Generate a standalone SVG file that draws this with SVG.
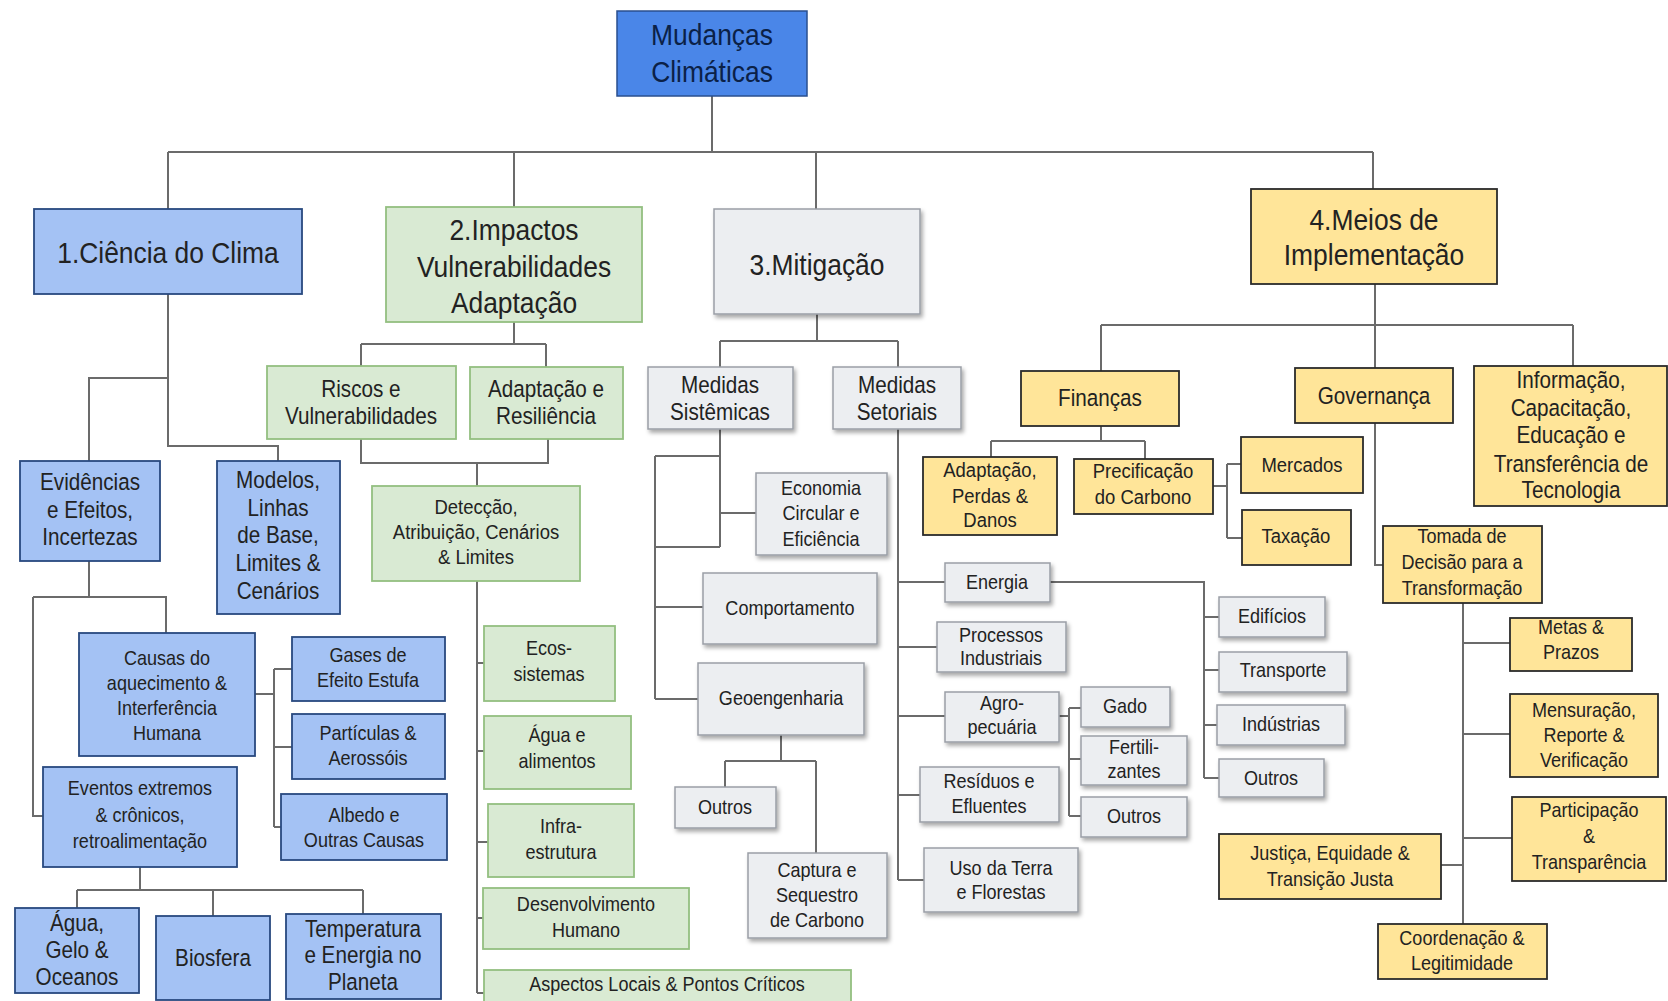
<svg xmlns="http://www.w3.org/2000/svg" width="1668" height="1001" viewBox="0 0 1668 1001">
<defs>
<filter id="sh" x="-10%" y="-10%" width="130%" height="140%">
<feDropShadow dx="2" dy="3" stdDeviation="2" flood-color="#000" flood-opacity="0.35"/>
</filter>
</defs>
<style>
text{font-family:"Liberation Sans",Arial,sans-serif;fill:#222;text-anchor:middle;transform-box:fill-box;transform-origin:center;transform:scaleX(0.88)}
.top rect{fill:#4a86e8;stroke:#2a4f8f;stroke-width:1.5}
.top text{fill:#0b2147}
.blue rect{fill:#a4c2f4;stroke:#28497f;stroke-width:1.8}
.green rect{fill:#d9ead3;stroke:#93bf80;stroke-width:1.8}
.gray rect{fill:#eceef1;stroke:#9a9ea6;stroke-width:1.5;filter:url(#sh)}
.yellow rect{fill:#ffe599;stroke:#2b2b2b;stroke-width:1.8}
.f27{font-size:30px}
.f21{font-size:23.5px}
.f19{font-size:21px}
.f18{font-size:20.5px}
#connectors path{fill:none;stroke:#6b6b6b;stroke-width:2}
</style>
<rect width="1668" height="1001" fill="#fff"/>

<g id="connectors">
<path d="M712 96V152M168 152H1373M168 152V209M514 152V207M816 152V209M1373 152V189"/>
<path d="M168 294V446H278V461M168 378H89V461M89 561V597M33 597H166V633M33 597V816H43M255 694H274M274 669V827M274 669H292M274 747H292M274 827H281M140 867V890M77 890H363M77 890V908M213 890V916M363 890V914"/>
<path d="M514 322V344M361 344H546M361 344V366M546 344V367M361 439V463H548V439M477 463V486M477 581V993M477 663H484M477 751H484M477 842H488M477 918H483M477 993H484"/>
<path d="M817 314V341M720 341H898M720 341V367M898 341V367M720 429V547M655 456H720M655 547H720M720 513H756M655 456V699M655 607H703M655 699H698M781 735V761M725 761H816M725 761V787M816 761V853"/>
<path d="M898 429V880M898 582H945M898 647H937M898 716H945M898 795H920M898 880H924M1050 582H1204V778M1204 617H1219M1204 670H1219M1204 725H1217M1204 778H1219M1059 716H1069M1069 708V816M1069 708H1081M1069 759H1081M1069 816H1081"/>
<path d="M1375 284V325M1101 325H1573M1101 325V371M1375 325V368M1573 325V366M1101 426V441M991 441H1145M991 441V457M1145 441V459M1213 486H1227M1227 464V538M1227 464H1241M1227 538H1242M1375 423V565H1383M1463 603V924M1463 643H1510M1463 734H1510M1463 838H1512M1441 865H1463"/>
</g>

<g id="mudancas" class="top"><rect x="617" y="11" width="190" height="85"/><text class="f27"><tspan x="712" y="45">Mudanças</tspan><tspan x="712" y="82">Climáticas</tspan></text></g>

<g id="ciencia" class="blue"><rect x="34" y="209" width="268" height="85"/><text class="f27" x="168" y="263">1.Ciência do Clima</text></g>
<g id="impactos" class="green"><rect x="386" y="207" width="256" height="115"/><text class="f27"><tspan x="514" y="240">2.Impactos</tspan><tspan x="514" y="277">Vulnerabilidades</tspan><tspan x="514" y="313">Adaptação</tspan></text></g>
<g id="mitigacao" class="gray"><rect x="714" y="209" width="206" height="105"/><text class="f27" x="817" y="275">3.Mitigação</text></g>
<g id="meios" class="yellow"><rect x="1251" y="189" width="246" height="95"/><text class="f27"><tspan x="1374" y="230">4.Meios de</tspan><tspan x="1374" y="265">Implementação</tspan></text></g>

<g id="evidencias" class="blue"><rect x="20" y="461" width="140" height="100"/><text class="f21"><tspan x="90" y="490">Evidências</tspan><tspan x="90" y="518">e Efeitos,</tspan><tspan x="90" y="545">Incertezas</tspan></text></g>
<g id="modelos" class="blue"><rect x="217" y="461" width="123" height="153"/><text class="f21"><tspan x="278" y="488">Modelos,</tspan><tspan x="278" y="516">Linhas</tspan><tspan x="278" y="543">de Base,</tspan><tspan x="278" y="571">Limites &amp;</tspan><tspan x="278" y="599">Cenários</tspan></text></g>
<g id="causas" class="blue"><rect x="79" y="633" width="176" height="123"/><text class="f18"><tspan x="167" y="665">Causas do</tspan><tspan x="167" y="690">aquecimento &amp;</tspan><tspan x="167" y="715">Interferência</tspan><tspan x="167" y="740">Humana</tspan></text></g>
<g id="gases" class="blue"><rect x="292" y="637" width="153" height="64"/><text class="f18"><tspan x="368" y="662">Gases de</tspan><tspan x="368" y="687">Efeito Estufa</tspan></text></g>
<g id="particulas" class="blue"><rect x="292" y="714" width="153" height="65"/><text class="f18"><tspan x="368" y="740">Partículas &amp;</tspan><tspan x="368" y="765">Aerossóis</tspan></text></g>
<g id="albedo" class="blue"><rect x="281" y="794" width="166" height="66"/><text class="f18"><tspan x="364" y="822">Albedo e</tspan><tspan x="364" y="847">Outras Causas</tspan></text></g>
<g id="eventos" class="blue"><rect x="43" y="767" width="194" height="100"/><text class="f18"><tspan x="140" y="795">Eventos extremos</tspan><tspan x="140" y="822">&amp; crônicos,</tspan><tspan x="140" y="848">retroalimentação</tspan></text></g>
<g id="agua" class="blue"><rect x="15" y="908" width="124" height="85"/><text class="f21"><tspan x="77" y="931">Água,</tspan><tspan x="77" y="958">Gelo &amp;</tspan><tspan x="77" y="985">Oceanos</tspan></text></g>
<g id="biosfera" class="blue"><rect x="156" y="916" width="114" height="84"/><text class="f21" x="213" y="966">Biosfera</text></g>
<g id="temperatura" class="blue"><rect x="286" y="914" width="155" height="85"/><text class="f21"><tspan x="363" y="937">Temperatura</tspan><tspan x="363" y="963">e Energia no</tspan><tspan x="363" y="990">Planeta</tspan></text></g>

<g id="riscos" class="green"><rect x="267" y="366" width="189" height="73"/><text class="f21"><tspan x="361" y="397">Riscos e</tspan><tspan x="361" y="424">Vulnerabilidades</tspan></text></g>
<g id="adaptacao" class="green"><rect x="470" y="367" width="153" height="72"/><text class="f21"><tspan x="546" y="397">Adaptação e</tspan><tspan x="546" y="424">Resiliência</tspan></text></g>
<g id="deteccao" class="green"><rect x="372" y="486" width="208" height="95"/><text class="f19"><tspan x="476" y="514">Detecção,</tspan><tspan x="476" y="539">Atribuição, Cenários</tspan><tspan x="476" y="564">&amp; Limites</tspan></text></g>
<g id="ecossistemas" class="green"><rect x="484" y="626" width="131" height="75"/><text class="f18"><tspan x="549" y="655">Ecos-</tspan><tspan x="549" y="681">sistemas</tspan></text></g>
<g id="agua-alimentos" class="green"><rect x="484" y="716" width="147" height="73"/><text class="f18"><tspan x="557" y="742">Água e</tspan><tspan x="557" y="768">alimentos</tspan></text></g>
<g id="infraestrutura" class="green"><rect x="488" y="804" width="146" height="73"/><text class="f18"><tspan x="561" y="833">Infra-</tspan><tspan x="561" y="859">estrutura</tspan></text></g>
<g id="desenvolvimento" class="green"><rect x="483" y="888" width="206" height="61"/><text class="f18"><tspan x="586" y="911">Desenvolvimento</tspan><tspan x="586" y="937">Humano</tspan></text></g>
<g id="aspectos" class="green"><rect x="484" y="970" width="367" height="40"/><text class="f18" x="667" y="991">Aspectos Locais &amp; Pontos Críticos</text></g>

<g id="sistemicas" class="gray"><rect x="648" y="367" width="145" height="62"/><text class="f21"><tspan x="720" y="393">Medidas</tspan><tspan x="720" y="420">Sistêmicas</tspan></text></g>
<g id="setoriais" class="gray"><rect x="833" y="367" width="128" height="62"/><text class="f21"><tspan x="897" y="393">Medidas</tspan><tspan x="897" y="420">Setoriais</tspan></text></g>
<g id="economia" class="gray"><rect x="756" y="473" width="131" height="82"/><text class="f18"><tspan x="821" y="495">Economia</tspan><tspan x="821" y="520">Circular e</tspan><tspan x="821" y="546">Eficiência</tspan></text></g>
<g id="comportamento" class="gray"><rect x="703" y="573" width="174" height="71"/><text class="f18" x="790" y="615">Comportamento</text></g>
<g id="geoengenharia" class="gray"><rect x="698" y="663" width="166" height="72"/><text class="f18" x="781" y="705">Geoengenharia</text></g>
<g id="outros-geo" class="gray"><rect x="675" y="787" width="101" height="41"/><text class="f18" x="725" y="814">Outros</text></g>
<g id="captura" class="gray"><rect x="748" y="853" width="139" height="85"/><text class="f18"><tspan x="817" y="877">Captura e</tspan><tspan x="817" y="902">Sequestro</tspan><tspan x="817" y="927">de Carbono</tspan></text></g>
<g id="energia" class="gray"><rect x="945" y="563" width="105" height="39"/><text class="f18" x="997" y="589">Energia</text></g>
<g id="processos" class="gray"><rect x="937" y="622" width="129" height="50"/><text class="f18"><tspan x="1001" y="642">Processos</tspan><tspan x="1001" y="665">Industriais</tspan></text></g>
<g id="agropecuaria" class="gray"><rect x="945" y="692" width="114" height="50"/><text class="f18"><tspan x="1002" y="710">Agro-</tspan><tspan x="1002" y="734">pecuária</tspan></text></g>
<g id="residuos" class="gray"><rect x="920" y="767" width="139" height="55"/><text class="f18"><tspan x="989" y="788">Resíduos e</tspan><tspan x="989" y="813">Efluentes</tspan></text></g>
<g id="uso-terra" class="gray"><rect x="924" y="848" width="154" height="64"/><text class="f18"><tspan x="1001" y="875">Uso da Terra</tspan><tspan x="1001" y="899">e Florestas</tspan></text></g>
<g id="gado" class="gray"><rect x="1081" y="687" width="89" height="40"/><text class="f18" x="1125" y="713">Gado</text></g>
<g id="fertilizantes" class="gray"><rect x="1081" y="736" width="106" height="49"/><text class="f18"><tspan x="1134" y="754">Fertili-</tspan><tspan x="1134" y="778">zantes</tspan></text></g>
<g id="outros-agro" class="gray"><rect x="1081" y="797" width="106" height="40"/><text class="f18" x="1134" y="823">Outros</text></g>
<g id="edificios" class="gray"><rect x="1219" y="597" width="106" height="40"/><text class="f18" x="1272" y="623">Edifícios</text></g>
<g id="transporte" class="gray"><rect x="1219" y="652" width="128" height="40"/><text class="f18" x="1283" y="677">Transporte</text></g>
<g id="industrias" class="gray"><rect x="1217" y="705" width="128" height="40"/><text class="f18" x="1281" y="731">Indústrias</text></g>
<g id="outros-setoriais" class="gray"><rect x="1219" y="759" width="105" height="38"/><text class="f18" x="1271" y="785">Outros</text></g>

<g id="financas" class="yellow"><rect x="1021" y="371" width="158" height="55"/><text class="f21" x="1100" y="406">Finanças</text></g>
<g id="governanca" class="yellow"><rect x="1295" y="368" width="158" height="55"/><text class="f21" x="1374" y="404">Governança</text></g>
<g id="informacao" class="yellow"><rect x="1474" y="366" width="193" height="140"/><text class="f21"><tspan x="1571" y="388">Informação,</tspan><tspan x="1571" y="416">Capacitação,</tspan><tspan x="1571" y="443">Educação e</tspan><tspan x="1571" y="472">Transferência de</tspan><tspan x="1571" y="498">Tecnologia</tspan></text></g>
<g id="adaptacao-perdas" class="yellow"><rect x="923" y="457" width="134" height="78"/><text class="f19"><tspan x="990" y="477">Adaptação,</tspan><tspan x="990" y="503">Perdas &amp;</tspan><tspan x="990" y="527">Danos</tspan></text></g>
<g id="precificacao" class="yellow"><rect x="1074" y="459" width="139" height="55"/><text class="f19"><tspan x="1143" y="478">Precificação</tspan><tspan x="1143" y="504">do Carbono</tspan></text></g>
<g id="mercados" class="yellow"><rect x="1241" y="437" width="122" height="56"/><text class="f19" x="1302" y="472">Mercados</text></g>
<g id="taxacao" class="yellow"><rect x="1242" y="510" width="109" height="55"/><text class="f19" x="1296" y="543">Taxação</text></g>
<g id="tomada" class="yellow"><rect x="1383" y="526" width="159" height="77"/><text class="f18"><tspan x="1462" y="543">Tomada de</tspan><tspan x="1462" y="569">Decisão para a</tspan><tspan x="1462" y="595">Transformação</tspan></text></g>
<g id="metas" class="yellow"><rect x="1510" y="618" width="122" height="53"/><text class="f18"><tspan x="1571" y="634">Metas &amp;</tspan><tspan x="1571" y="659">Prazos</tspan></text></g>
<g id="mensuracao" class="yellow"><rect x="1510" y="694" width="148" height="83"/><text class="f18"><tspan x="1584" y="717">Mensuração,</tspan><tspan x="1584" y="742">Reporte &amp;</tspan><tspan x="1584" y="767">Verificação</tspan></text></g>
<g id="participacao" class="yellow"><rect x="1512" y="797" width="154" height="84"/><text class="f18"><tspan x="1589" y="817">Participação</tspan><tspan x="1589" y="843">&amp;</tspan><tspan x="1589" y="869">Transparência</tspan></text></g>
<g id="justica" class="yellow"><rect x="1219" y="834" width="222" height="65"/><text class="f18"><tspan x="1330" y="860">Justiça, Equidade  &amp;</tspan><tspan x="1330" y="886">Transição Justa</tspan></text></g>
<g id="coordenacao" class="yellow"><rect x="1378" y="924" width="169" height="55"/><text class="f18"><tspan x="1462" y="945">Coordenação &amp;</tspan><tspan x="1462" y="970">Legitimidade</tspan></text></g>
</svg>
